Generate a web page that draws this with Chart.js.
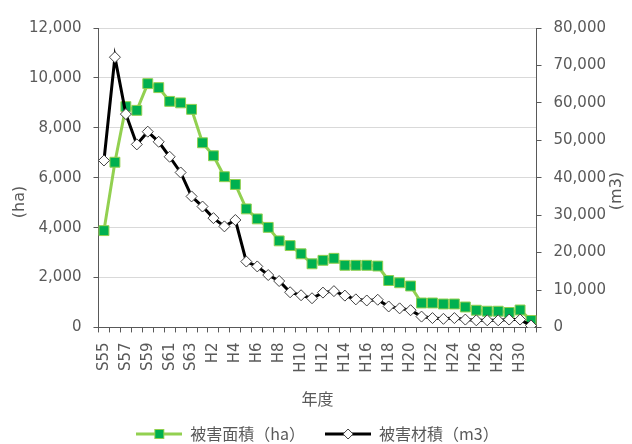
<!DOCTYPE html>
<html>
<head>
<meta charset="utf-8">
<script src="https://cdn.jsdelivr.net/npm/chart.js@4/dist/chart.umd.min.js"></script>
<style>
  html, body { margin: 0; padding: 0; background: #fff; }
  #wrap { width: 632px; height: 444px; }
</style>
</head>
<body>
<div id="wrap"><canvas id="myChart"></canvas></div>
<script>
const years = ['S55', 'S56', 'S57', 'S58', 'S59', 'S60', 'S61', 'S62', 'S63',
    'H1', 'H2', 'H3', 'H4', 'H5', 'H6', 'H7', 'H8', 'H9', 'H10',
    'H11', 'H12', 'H13', 'H14', 'H15', 'H16', 'H17', 'H18', 'H19', 'H20',
    'H21', 'H22', 'H23', 'H24', 'H25', 'H26', 'H27', 'H28', 'H29', 'H30', 'H31'];
// 被害面積 (ha)
const damageArea = [3880, 6620, 8850, 8700, 9770, 9610, 9060, 9000, 8740,
    7400, 6880, 6040, 5730, 4750, 4350, 4010, 3470, 3280, 2950,
    2550, 2690, 2770, 2490, 2490, 2490, 2460, 1880, 1790, 1660,
    980, 980, 940, 940, 820, 690, 650, 650, 600, 700, 280];
// 被害材積 (m3)
const damageVolume = [44600, 72200, 57000, 48900, 52300, 49600, 45600, 41400, 35000,
    32300, 29200, 27000, 28700, 17600, 16300, 14000, 12400, 9400, 8600,
    7800, 9300, 9700, 8500, 7500, 7200, 7400, 5600, 5100, 4600,
    2900, 2500, 2300, 2500, 2100, 1900, 1900, 1900, 2100, 2100, 500];

const fontFamily = '"DejaVu Sans", "Noto Sans CJK JP", sans-serif';
const cjkFamily = '"Noto Sans CJK JP", "DejaVu Sans", sans-serif';
const textColor = '#595959';
const axisColor = '#595959';

Chart.defaults.font.family = fontFamily;
Chart.defaults.font.size = 15;
Chart.defaults.color = textColor;

function legendIcon(lineColor, drawMarker) {
    const c = document.createElement('canvas');
    c.width = 46;
    c.height = 14;
    const g = c.getContext('2d');
    g.strokeStyle = lineColor;
    g.lineWidth = 3;
    g.beginPath();
    g.moveTo(0, 7);
    g.lineTo(46, 7);
    g.stroke();
    drawMarker(g);
    return c;
}

const areaIcon = legendIcon('#92d050', g => {
    g.fillStyle = '#00b050';
    g.strokeStyle = '#92d050';
    g.lineWidth = 1;
    g.fillRect(18.5, 2.5, 9, 9);
    g.strokeRect(18.5, 2.5, 9, 9);
});
const volumeIcon = legendIcon('#000000', g => {
    g.fillStyle = '#ffffff';
    g.strokeStyle = '#404040';
    g.lineWidth = 1;
    g.beginPath();
    g.moveTo(23, 2);
    g.lineTo(28, 7);
    g.lineTo(23, 12);
    g.lineTo(18, 7);
    g.closePath();
    g.fill();
    g.stroke();
});

// y axis titles, rotated to read bottom-to-top on both sides
const sideTitles = {
    id: 'sideTitles',
    afterDraw(chart) {
        const ctx = chart.ctx;
        ctx.save();
        ctx.fillStyle = textColor;
        ctx.font = '16px ' + fontFamily;
        ctx.textAlign = 'center';
        ctx.textBaseline = 'middle';
        [[20, 202, '(ha)'], [617, 191, '(m3)']].forEach(([x, y, t]) => {
            ctx.save();
            ctx.translate(x, y);
            ctx.rotate(-Math.PI / 2);
            ctx.fillText(t, 0, 0);
            ctx.restore();
        });
        ctx.restore();
    }
};

const ctx = document.getElementById('myChart');

const chart = new Chart(ctx, {
    type: 'line',
    data: {
        labels: years,
        datasets: [{
            label: '被害面積（ha）',
            data: damageArea,
            yAxisID: 'yArea',
            order: 1,
            borderColor: '#92d050',
            borderWidth: 3,
            pointStyle: 'rect',
            pointRadius: 7,
            pointHoverRadius: 7,
            pointBackgroundColor: '#00b050',
            pointBorderColor: '#92d050',
            pointBorderWidth: 1,
            tension: 0
        }, {
            label: '被害材積（m3）',
            data: damageVolume,
            yAxisID: 'yVolume',
            order: 0,
            borderColor: '#000000',
            borderWidth: 3,
            pointStyle: 'rectRot',
            pointRadius: 5.5,
            pointHoverRadius: 5.5,
            pointBackgroundColor: '#ffffff',
            pointBorderColor: '#404040',
            pointBorderWidth: 1,
            tension: 0
        }]
    },
    options: {
        responsive: true,
        maintainAspectRatio: false,
        animation: false,
        layout: {
            padding: { left: 17, right: 14, top: 28, bottom: -8 }
        },
        plugins: {
            tooltip: { enabled: false },
            legend: {
                position: 'bottom',
                labels: {
                    usePointStyle: true,
                    pointStyleWidth: 46,
                    boxHeight: 14,
                    padding: 20,
                    font: { size: 16, family: cjkFamily },
                    color: textColor,
                    generateLabels: chart => chart.data.datasets.map((ds, i) => ({
                        text: ds.label,
                        datasetIndex: i,
                        pointStyle: i === 0 ? areaIcon : volumeIcon,
                        fillStyle: 'transparent',
                        strokeStyle: 'transparent',
                        lineWidth: 0,
                        fontColor: textColor,
                        hidden: false
                    }))
                }
            }
        },
        scales: {
            x: {
                offset: true,
                grid: {
                    offset: true,
                    drawOnChartArea: false,
                    tickLength: 5,
                    tickColor: axisColor
                },
                border: { color: axisColor },
                ticks: {
                    autoSkip: false,
                    maxRotation: 90,
                    minRotation: 90,
                    padding: 10,
                    callback: function (value, index) {
                        return index % 2 === 0 ? this.getLabelForValue(value) : '';
                    }
                },
                title: {
                    display: true,
                    text: '年度',
                    font: { size: 16, family: cjkFamily },
                    color: textColor,
                    padding: { top: 7, bottom: -3 }
                }
            },
            yArea: {
                position: 'left',
                min: 0,
                max: 12000,
                grid: {
                    color: '#d9d9d9',
                    tickColor: axisColor,
                    tickLength: 5
                },
                border: { color: axisColor },
                ticks: {
                    stepSize: 2000,
                    padding: 12,
                    callback: value => value.toLocaleString('en-US')
                }
            },
            yVolume: {
                position: 'right',
                min: 0,
                max: 80000,
                grid: {
                    drawOnChartArea: false,
                    tickColor: axisColor,
                    tickLength: 5
                },
                border: { color: axisColor },
                ticks: {
                    stepSize: 10000,
                    padding: 12,
                    callback: value => value.toLocaleString('en-US')
                }
            }
        }
    },
    plugins: [sideTitles]
});
</script>
</body>
</html>
